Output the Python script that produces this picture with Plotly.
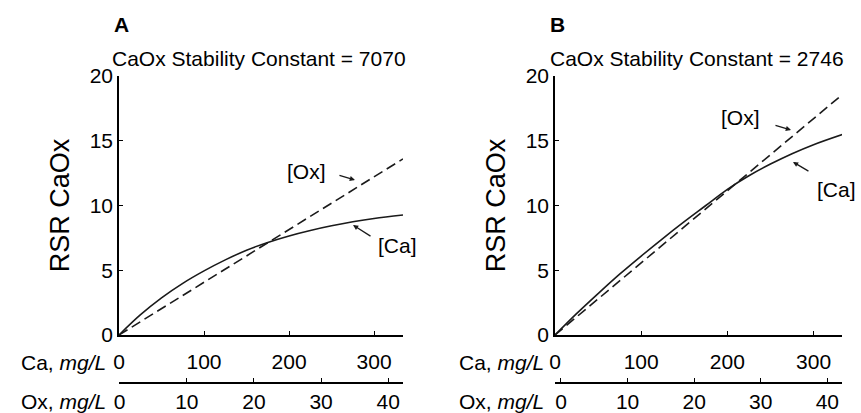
import plotly.graph_objects as go

# ---- data ----
ca_mgL = [0, 25, 50, 75, 100, 125, 150, 175, 200, 225, 250, 275, 300, 334]
rsr_ca_A = [0, 1.55, 2.87, 3.99, 4.95, 5.8, 6.55, 7.15, 7.65, 8.07, 8.43, 8.74, 9.0, 9.27]
rsr_ca_B = [0, 1.65, 3.2, 4.7, 6.1, 7.45, 8.75, 10.0, 11.25, 12.3, 13.2, 14.0, 14.7, 15.5]
ox_line_ca = [0, 334]
rsr_ox_A = [0, 13.6]
rsr_ox_B = [0, 18.6]

ca_ticks = [0, 100, 200, 300]
ox_ticks = [0, 10, 20, 30, 40]
y_ticks = [0, 5, 10, 15, 20]

titles = ["CaOx Stability Constant = 7070", "CaOx Stability Constant = 2746"]
panel_letters = ["A", "B"]

FONT = "Liberation Sans, Arial, Helvetica, sans-serif"
W, H = 861, 413

def px(x):
    return x / W

def py(y):
    return 1 - y / H

line_col = "#1a1a1a"

fig = go.Figure()

# Panel A
fig.add_trace(go.Scatter(x=ca_mgL, y=rsr_ca_A, mode="lines", xaxis="x", yaxis="y",
                         line=dict(color=line_col, width=1.6, shape="spline"), showlegend=False))
fig.add_trace(go.Scatter(x=ox_line_ca, y=rsr_ox_A, mode="lines", xaxis="x", yaxis="y",
                         line=dict(color=line_col, width=1.6, dash="10px,5px"), showlegend=False))
fig.add_trace(go.Scatter(x=[0, 40], y=[None, None], mode="lines", xaxis="x2", yaxis="y",
                         showlegend=False, hoverinfo="skip"))
# Panel B
fig.add_trace(go.Scatter(x=ca_mgL, y=rsr_ca_B, mode="lines", xaxis="x3", yaxis="y2",
                         line=dict(color=line_col, width=1.6, shape="spline"), showlegend=False))
fig.add_trace(go.Scatter(x=ox_line_ca, y=rsr_ox_B, mode="lines", xaxis="x3", yaxis="y2",
                         line=dict(color=line_col, width=1.6, dash="10px,5px"), showlegend=False))
fig.add_trace(go.Scatter(x=[0, 40], y=[None, None], mode="lines", xaxis="x4", yaxis="y2",
                         showlegend=False, hoverinfo="skip"))

ydom = [py(335), py(76)]
domA = [px(119), px(403)]
domB = [px(555), px(842)]
ox_pos = py(383)

common_x = dict(showline=True, linecolor="black", linewidth=1.5, ticks="inside", ticklen=4,
                tickcolor="black", tickwidth=1.3, showgrid=False, zeroline=False,
                tickfont=dict(family=FONT, size=21, color="black"))
common_y = dict(showline=True, linecolor="black", linewidth=1.5, ticks="inside", ticklen=4,
                tickcolor="black", tickwidth=1.3, showgrid=False, zeroline=False,
                range=[0, 20], tickvals=y_ticks, domain=ydom,
                tickfont=dict(family=FONT, size=21, color="black"),
                title=dict(text="RSR CaOx", font=dict(family=FONT, size=27, color="black"), standoff=12))

fig.update_layout(
    width=W, height=H, margin=dict(l=0, r=0, t=0, b=0, autoexpand=False),
    paper_bgcolor="white", plot_bgcolor="white",
    xaxis=dict(domain=domA, range=[0, 334], tickvals=ca_ticks, anchor="y", ticklabelstandoff=7, **common_x),
    xaxis2=dict(overlaying="x", anchor="free", position=ox_pos, side="bottom", range=[-0.1, 42.2],
                tickvals=ox_ticks, ticklabelstandoff=0, **common_x),
    yaxis=dict(anchor="x", **common_y),
    xaxis3=dict(domain=domB, range=[0, 333], tickvals=ca_ticks, anchor="y2", ticklabelstandoff=7, **common_x),
    xaxis4=dict(overlaying="x3", anchor="free", position=ox_pos, side="bottom", range=[-0.9, 42.2],
                tickvals=ox_ticks, ticklabelstandoff=0, **common_x),
    yaxis2=dict(anchor="x3", **common_y),
)

ann = []
# panel letters and titles
for letter, xl, title, xt in [("A", 121, titles[0], 259), ("B", 557, titles[1], 697)]:
    ann.append(dict(text="<b>%s</b>" % letter, x=px(xl), y=py(25), xref="paper", yref="paper",
                    showarrow=False, font=dict(family=FONT, size=21, color="black"),
                    xanchor="center", yanchor="middle"))
    ann.append(dict(text=title, x=px(xt), y=py(58), xref="paper", yref="paper",
                    showarrow=False, font=dict(family=FONT, size=21, color="black"),
                    xanchor="center", yanchor="middle"))

# axis unit labels
for xr in [108, 546]:
    ann.append(dict(text="Ca, <i>mg/L</i>", x=px(xr), y=py(362), xref="paper", yref="paper",
                    showarrow=False, font=dict(family=FONT, size=21, color="black"),
                    xanchor="right", yanchor="middle"))
    ann.append(dict(text="Ox, <i>mg/L</i>", x=px(xr), y=py(401), xref="paper", yref="paper",
                    showarrow=False, font=dict(family=FONT, size=21, color="black"),
                    xanchor="right", yanchor="middle"))

# curve labels + arrows
labels = [
    ("x", "y", "[Ox]", 221, 12.66, 277.5, 11.97, -17, -5),
    ("x", "y", "[Ca]", 328, 6.95, 275.2, 8.49, 19, 12),
    ("x3", "y2", "[Ox]", 215, 16.76, 273.8, 15.83, -17, -5),
    ("x3", "y2", "[Ca]", 326.6, 11.2, 276.1, 13.36, 17, 10),
]
for xr, yr, txt, tx, ty, hx, hy, ax, ay in labels:
    ann.append(dict(text=txt, x=tx, y=ty, xref=xr, yref=yr, showarrow=False,
                    font=dict(family=FONT, size=21, color="black"), xanchor="center", yanchor="middle"))
    ann.append(dict(text="", x=hx, y=hy, xref=xr, yref=yr, showarrow=True, arrowhead=2,
                    arrowsize=0.8, arrowwidth=1.3, arrowcolor=line_col, ax=ax, ay=ay, axref="pixel", ayref="pixel",
                    standoff=0))

fig.update_layout(annotations=ann)
fig.write_html("out.html", config={"displayModeBar": False},
               post_script="document.body.style.margin='0';")
